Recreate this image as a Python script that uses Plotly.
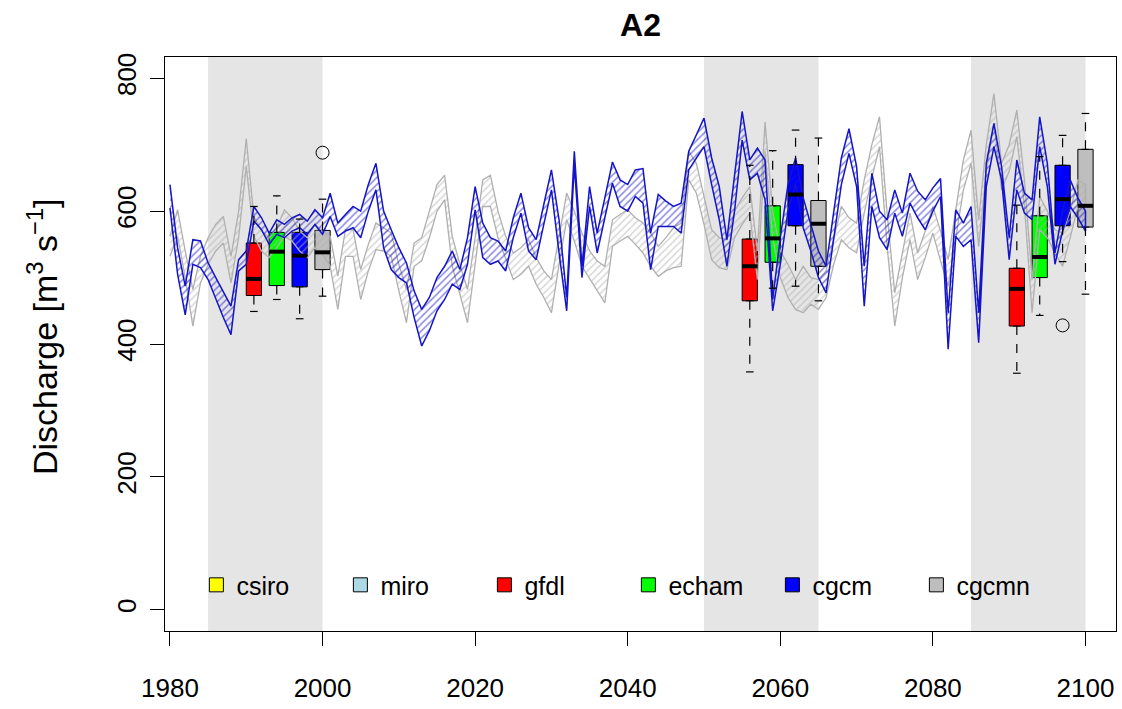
import plotly.graph_objects as go

# ---- data -------------------------------------------------------------
years = list(range(1980, 2101))

cgcm_upper = [640, 545, 487, 557, 555, 522, 500, 478, 457, 527,
              540, 607, 590, 567, 587, 580, 590, 595, 585, 602,
              590, 627, 582, 595, 607, 600, 640, 672, 600, 572,
              545, 522, 480, 452, 470, 500, 517, 540, 512, 560,
              637, 582, 560, 555, 540, 590, 627, 575, 557, 610,
              662, 587, 470, 690, 517, 637, 567, 620, 674, 647,
              640, 662, 664, 567, 625, 615, 607, 612, 690, 715,
              740, 680, 637, 557, 650, 750, 677, 695, 677, 467,
              560, 640, 680, 620, 580, 540, 517, 600, 680, 724,
              667, 517, 657, 600, 587, 632, 597, 657, 630, 617,
              635, 649, 447, 602, 582, 607, 447, 672, 732, 667,
              560, 677, 627, 617, 742, 672, 537, 600, 647, 620,
              600]
cgcm_lower = [605, 505, 444, 520, 515, 497, 470, 440, 414, 510,
              520, 585, 572, 550, 565, 560, 570, 575, 565, 580,
              565, 592, 562, 570, 575, 560, 600, 632, 545, 512,
              500, 492, 440, 397, 420, 450, 467, 490, 482, 520,
              602, 530, 520, 525, 510, 560, 597, 540, 527, 580,
              632, 537, 450, 670, 500, 607, 537, 590, 642, 607,
              600, 622, 612, 512, 577, 577, 577, 567, 662, 680,
              697, 640, 587, 517, 600, 707, 647, 657, 617, 450,
              520, 600, 640, 575, 540, 500, 477, 560, 640, 687,
              637, 457, 607, 560, 542, 597, 562, 612, 590, 572,
              600, 622, 392, 562, 547, 557, 402, 637, 697, 647,
              527, 632, 597, 587, 697, 637, 520, 570, 607, 590,
              570]
cgcmn_upper = [562, 602, 540, 482, 532, 560, 580, 592, 532, 600,
               709, 592, 570, 560, 575, 602, 590, 570, 560, 580,
               570, 562, 502, 572, 572, 512, 550, 582, 575, 567,
               520, 482, 552, 560, 600, 640, 654, 562, 520, 482,
               560, 647, 654, 600, 562, 537, 545, 557, 530, 510,
               497, 560, 627, 600, 567, 540, 525, 517, 587, 595,
               602, 590, 582, 567, 547, 560, 575, 582, 690, 672,
               620, 572, 560, 557, 600, 620, 637, 540, 734, 600,
               540, 520, 497, 517, 500, 497, 510, 560, 607, 590,
               582, 647, 700, 742, 597, 477, 540, 597, 537, 570,
               607, 570, 527, 600, 677, 722, 587, 700, 777, 672,
               700, 752, 647, 497, 622, 600, 572, 567, 600, 647,
               640]
cgcmn_lower = [532, 562, 500, 427, 492, 520, 540, 552, 492, 560,
               667, 562, 540, 530, 545, 562, 555, 540, 530, 545,
               535, 517, 452, 532, 532, 467, 510, 542, 540, 532,
               480, 432, 517, 525, 560, 600, 617, 517, 475, 432,
               520, 607, 607, 560, 527, 497, 505, 517, 490, 470,
               447, 520, 587, 555, 517, 497, 480, 462, 547, 555,
               562, 550, 537, 517, 502, 510, 515, 517, 647, 627,
               580, 527, 515, 512, 560, 580, 597, 497, 690, 560,
               500, 470, 452, 447, 460, 452, 470, 520, 557, 545,
               537, 597, 650, 697, 547, 427, 500, 557, 497, 530,
               567, 525, 487, 560, 632, 672, 547, 660, 732, 632,
               660, 712, 607, 447, 572, 560, 537, 517, 560, 607,
               600]

# reference / scenario periods (shaded)
period_start = [1985, 2050, 2085]
period_end = [2000, 2065, 2100]

# box statistics per model, one entry per period
box_stats = {
    "gfdl":  dict(pos=[1991, 2056, 2091], color="#ff0000",
                  lo=[449, 358, 356], q1=[473, 465, 427], med=[498, 517, 483],
                  q3=[552, 558, 514], hi=[607, 669, 609]),
    "echam": dict(pos=[1994, 2059, 2094], color="#00ff00",
                  lo=[467, 484, 443], q1=[488, 523, 500], med=[539, 559, 531],
                  q3=[568, 608, 593], hi=[623, 691, 682]),
    "cgcm":  dict(pos=[1997, 2062, 2097], color="#0000ff",
                  lo=[438, 487, 524], q1=[486, 578, 578], med=[533, 625, 618],
                  q3=[568, 670, 669], hi=[588, 722, 714]),
    "cgcmn": dict(pos=[2000, 2065, 2100], color="#bebebe",
                  lo=[472, 465, 475], q1=[512, 517, 576], med=[538, 581, 608],
                  q3=[571, 616, 693], hi=[618, 710, 747]),
}
outlier_x = [2000, 2097]
outlier_y = [688, 428]

legend_names = ["csiro", "miro", "gfdl", "echam", "cgcm", "cgcmn"]
legend_colors = ["#ffff00", "#add8e6", "#ff0000", "#00ff00", "#0000ff", "#bebebe"]

box_width = 2.0
cap_width = 1.0

# ---- figure -----------------------------------------------------------
fig = go.Figure()


def band(upper, lower, color, width):
    xs = years + years[::-1]
    ys = upper + lower[::-1]
    return go.Scatter(
        x=xs, y=ys, mode="lines", fill="toself",
        fillcolor="rgba(0,0,0,0)",
        fillpattern=dict(shape="/", fgcolor=color, bgcolor="rgba(0,0,0,0)",
                         size=5, solidity=0.3),
        line=dict(color=color, width=width),
        hoverinfo="skip", showlegend=False,
    )


fig.add_trace(band(cgcmn_upper, cgcmn_lower, "#b0b0b0", 1.3))
fig.add_trace(band(cgcm_upper, cgcm_lower, "#1414c8", 1.5))

for name, s in box_stats.items():
    fig.add_trace(go.Box(
        x=s["pos"], q1=s["q1"], median=s["med"], q3=s["q3"],
        lowerfence=s["q1"], upperfence=s["q3"],
        width=box_width, fillcolor=s["color"],
        line=dict(color="black", width=1),
        boxpoints=False, hoverinfo="skip", showlegend=False,
    ))
    wx, wy, cx, cy, mx, my = [], [], [], [], [], []
    for p, lo, q1, m, q3, hi in zip(s["pos"], s["lo"], s["q1"], s["med"],
                                    s["q3"], s["hi"]):
        wx += [p, p, None, p, p, None]
        wy += [q3, hi, None, q1, lo, None]
        cx += [p - cap_width / 2, p + cap_width / 2, None,
               p - cap_width / 2, p + cap_width / 2, None]
        cy += [hi, hi, None, lo, lo, None]
        mx += [p - box_width / 2, p + box_width / 2, None]
        my += [m, m, None]
    fig.add_trace(go.Scatter(x=wx, y=wy, mode="lines",
                             line=dict(color="black", width=1.2, dash="dash"),
                             hoverinfo="skip", showlegend=False))
    fig.add_trace(go.Scatter(x=cx, y=cy, mode="lines",
                             line=dict(color="black", width=1.2),
                             hoverinfo="skip", showlegend=False))
    fig.add_trace(go.Scatter(x=mx, y=my, mode="lines",
                             line=dict(color="black", width=4),
                             hoverinfo="skip", showlegend=False))

fig.add_trace(go.Scatter(x=outlier_x, y=outlier_y, mode="markers",
                         marker=dict(symbol="circle-open", size=13,
                                     color="black", line=dict(width=1)),
                         hoverinfo="skip", showlegend=False))

# legend entries
for name, col in zip(legend_names, legend_colors):
    fig.add_trace(go.Scatter(x=[None], y=[None], mode="markers", name=name,
                             marker=dict(symbol="square", size=14, color=col,
                                         line=dict(color="black", width=1))))

shapes = [dict(type="rect", xref="x", yref="paper", x0=a, x1=b, y0=0, y1=1,
               fillcolor="#e5e5e5", line=dict(width=0), layer="below")
          for a, b in zip(period_start, period_end)]

font_family = "Liberation Sans, Arial, sans-serif"

fig.update_layout(
    width=1122, height=709,
    margin=dict(l=165, r=6, t=57, b=78),
    paper_bgcolor="white", plot_bgcolor="white",
    font=dict(family=font_family, color="black"),
    boxmode="overlay",
    shapes=shapes,
    title=dict(text="<b>A2</b>", x=0.5, xref="paper", xanchor="center",
               y=1 - 25 / 709, yref="container", yanchor="middle",
               font=dict(size=32, family=font_family, color="black")),
    xaxis=dict(range=[1979.35, 2104.0], tickvals=[1980, 2000, 2020, 2040, 2060, 2080, 2100],
               ticks="outside", ticklen=14, tickwidth=1, tickcolor="black",
               showline=True, linecolor="black", linewidth=1, mirror=True,
               showgrid=False, zeroline=False, ticklabelstandoff=20,
               tickfont=dict(size=26)),
    yaxis=dict(range=[-32, 832], tickvals=[0, 200, 400, 600, 800],
               ticks="outside", ticklen=14, tickwidth=1, tickcolor="black",
               showline=True, linecolor="black", linewidth=1, mirror=True,
               showgrid=False, zeroline=False, tickangle=-90,
               ticklabelstandoff=4, tickfont=dict(size=26)),
    legend=dict(orientation="h", x=0.033, xanchor="left", y=0.08,
                yanchor="middle", bgcolor="rgba(0,0,0,0)",
                entrywidth=99, entrywidthmode="pixels",
                font=dict(size=25), itemclick=False),
    annotations=[dict(text="Discharge [m<sup>3</sup> s<sup>\u22121</sup>]",
                      xref="paper", yref="paper", x=(42 - 165) / 951,
                      y=(631 - 337) / 574, xanchor="center", yanchor="middle",
                      textangle=-90, showarrow=False,
                      font=dict(size=34, family=font_family, color="black"))],
)

fig.write_html("out.html")
